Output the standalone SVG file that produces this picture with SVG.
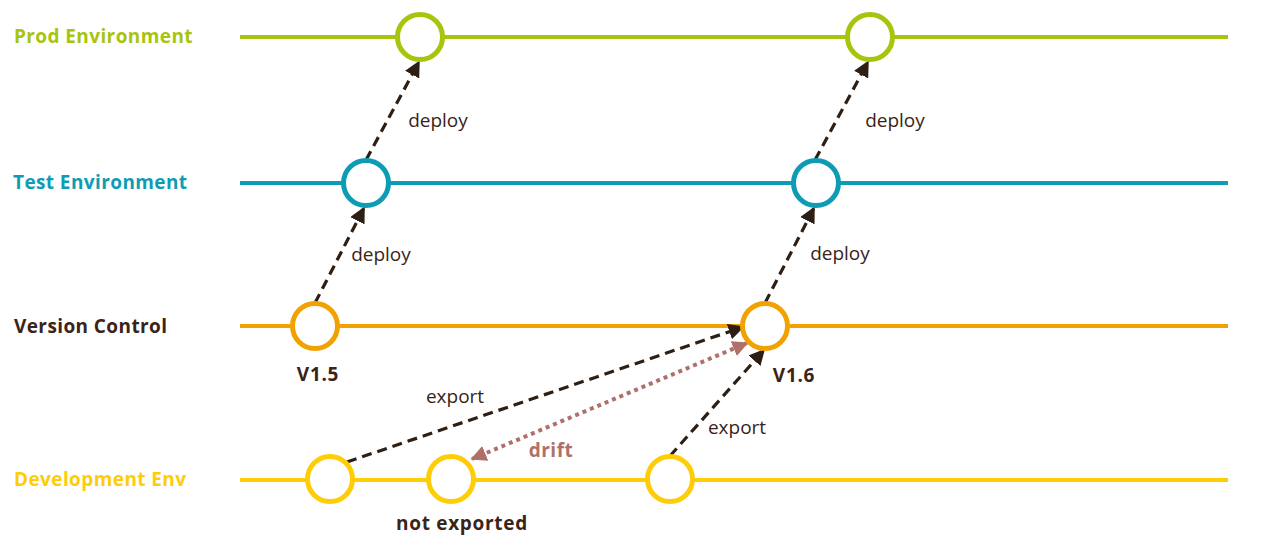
<svg xmlns="http://www.w3.org/2000/svg" width="1280" height="550" viewBox="0 0 1280 550">
<style>
text{font-family:"Open Sans","Noto Sans","Liberation Sans",sans-serif;}
.lane{font-size:19px;font-weight:bold;letter-spacing:0.4px;}
.lbl{font-size:19px;fill:#3a2418;}
.ver{font-size:19px;font-weight:bold;fill:#3a2418;letter-spacing:0.7px;}
.track{stroke-width:4;fill:none;}
.node{fill:#fff;stroke-width:5;}
.dash{stroke:#2e1f14;stroke-width:3.2;stroke-dasharray:10 6;fill:none;marker-end:url(#ah);}
.dot{stroke:#b0706a;stroke-width:4;stroke-dasharray:4 4;fill:none;marker-end:url(#ahd);marker-start:url(#ahds);}
</style>
<defs>
<marker id="ah" viewBox="0 0 10 10" refX="9" refY="5" markerWidth="5" markerHeight="5" orient="auto" markerUnits="strokeWidth"><path d="M0,0 L10,5 L0,10 z" fill="#2e1f14"/></marker>
<marker id="ahd" viewBox="0 0 10 10" refX="9" refY="5" markerWidth="4" markerHeight="4" orient="auto" markerUnits="strokeWidth"><path d="M0,0 L10,5 L0,10 z" fill="#b0706a"/></marker>
<marker id="ahds" viewBox="0 0 10 10" refX="1" refY="5" markerWidth="4" markerHeight="4" orient="auto" markerUnits="strokeWidth"><path d="M10,0 L0,5 L10,10 z" fill="#b0706a"/></marker>
</defs>
<g id="lanes">
<line class="track" x1="240" y1="37" x2="1228" y2="37" stroke="#a8c40c"/>
<line class="track" x1="240" y1="183" x2="1228" y2="183" stroke="#0e9cb5"/>
<line class="track" x1="240" y1="326" x2="1228" y2="326" stroke="#f2a200"/>
<line class="track" x1="240" y1="480" x2="1228" y2="480" stroke="#ffcc08"/>
<text class="lane" x="14" y="43" fill="#a8c40c">Prod Environment</text>
<text class="lane" x="13" y="189" fill="#0e9cb5">Test Environment</text>
<text class="lane" x="14" y="333" fill="#3a2418">Version Control</text>
<text class="lane" x="14" y="486" fill="#ffcc08">Development Env</text>
</g>
<g id="connectors">
<line class="dash" x1="366" y1="160" x2="419" y2="62"/>
<line class="dash" x1="315" y1="303" x2="364" y2="208"/>
<line class="dash" x1="815" y1="160" x2="868" y2="62"/>
<line class="dash" x1="765" y1="303" x2="814" y2="208"/>
<line class="dash" x1="347" y1="462" x2="743" y2="327"/>
<line class="dash" x1="670" y1="456" x2="764" y2="350"/>
<line class="dot" x1="472" y1="459" x2="747" y2="343"/>
</g>
<g id="prod-nodes">
<circle class="node" cx="420" cy="37" r="22.5" stroke="#a8c40c"/>
<circle class="node" cx="870" cy="37" r="22.5" stroke="#a8c40c"/>
</g>
<g id="test-nodes">
<circle class="node" cx="366" cy="183" r="22.5" stroke="#0e9cb5"/>
<circle class="node" cx="816" cy="183" r="22.5" stroke="#0e9cb5"/>
</g>
<g id="v15">
<circle class="node" cx="315" cy="326" r="22.5" stroke="#f2a200"/>
<text class="ver" x="318" y="381" text-anchor="middle">V1.5</text>
</g>
<g id="v16">
<circle class="node" cx="765" cy="326" r="22.5" stroke="#f2a200"/>
<text class="ver" x="794" y="382" text-anchor="middle">V1.6</text>
</g>
<g id="dev-nodes">
<circle class="node" cx="330" cy="479" r="22.5" stroke="#ffcc08"/>
<circle class="node" cx="451" cy="479" r="22.5" stroke="#ffcc08"/>
<circle class="node" cx="670" cy="479" r="22.5" stroke="#ffcc08"/>
<text class="ver" x="462" y="530" text-anchor="middle">not exported</text>
</g>
<g id="labels">
<text class="lbl" x="438" y="127" text-anchor="middle">deploy</text>
<text class="lbl" x="895" y="127" text-anchor="middle">deploy</text>
<text class="lbl" x="381" y="261" text-anchor="middle">deploy</text>
<text class="lbl" x="840" y="260" text-anchor="middle">deploy</text>
<text class="lbl" x="455" y="403" text-anchor="middle">export</text>
<text class="lbl" x="737" y="434" text-anchor="middle">export</text>
<text x="551" y="457" text-anchor="middle" font-size="19" font-weight="bold" fill="#b0706a" letter-spacing="0.5">drift</text>
</g>
</svg>
